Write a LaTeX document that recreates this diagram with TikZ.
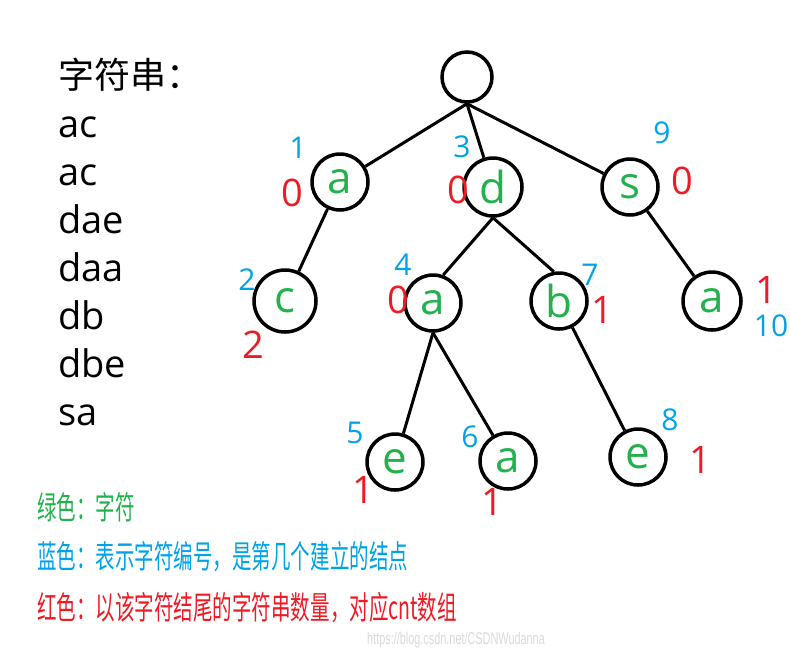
\documentclass[tikz,border=0pt]{standalone}
\usepackage{fontspec}
\setmainfont{Open Sans}
\newfontfamily\cjk{Noto Sans CJK SC}
\definecolor{chgreen}{HTML}{22B14C}
\definecolor{idblue}{HTML}{00A2E8}
\definecolor{cntred}{HTML}{ED1C24}
\tikzset{
  trie/.style={circle,draw,line width=3.5pt,minimum size=56pt,inner sep=0pt,
    text=chgreen,font=\fontsize{44}{44}\selectfont},
  edge/.style={line width=3pt},
  idnum/.style={text=idblue,inner sep=0pt,font=\fontsize{30}{30}\selectfont},
  cntnum/.style={text=cntred,inner sep=0pt,font=\fontsize{38}{38}\selectfont},
  word/.style={anchor=base west,inner sep=0pt,font=\fontsize{38}{38}\selectfont},
  legend/.style={anchor=west,inner sep=0pt,font=\fontsize{32}{32}\cjk}
}
\begin{document}
\begin{tikzpicture}[x=1pt,y=-1pt]
\useasboundingbox (0,0) rectangle (791,657);
% word list
\node[word,font=\fontsize{36}{36}\cjk] (title) at (58,88) {字符串：};
\node[word] (w1) at (58,137) {ac};
\node[word] (w2) at (58,185) {ac};
\node[word] (w3) at (58,233) {dae};
\node[word] (w4) at (58,281) {daa};
\node[word] (w5) at (58,329) {db};
\node[word] (w6) at (58,377) {dbe};
\node[word] (w7) at (58,425) {sa};
% trie
\node[trie,minimum size=50pt] (n0) at (467,77) {};
\node[trie] (n1) at (340,182) {a};
\node[trie,minimum size=62pt] (n2) at (285,301) {c};
\node[trie,minimum size=58pt] (n3) at (493,187) {d};
\node[trie] (n4) at (433,303) {a};
\node[trie] (n5) at (395,462) {e};
\node[trie] (n6) at (508,461) {a};
\node[trie] (n7) at (559,301) {b};
\node[trie] (n8) at (638,457) {e};
\node[trie] (n9) at (630,187) {s};
\node[trie,minimum size=58pt] (n10) at (712,301) {a};
\draw[edge] (n0.south) -- (n1);
\draw[edge] (n0.south) -- (n3);
\draw[edge] (n0.south) -- (n9);
\draw[edge] (n1) -- (n2);
\draw[edge] (n3.south) -- (n4.70);
\draw[edge] (n3.south) -- (n7.100);
\draw[edge] (n4.south) -- (n5);
\draw[edge] (n4.south) -- (n6);
\draw[edge] (n7) -- (n8);
\draw[edge] (n9) -- (n10);
% ids and counts
\node[idnum] (id1) at (298,148) {1};
\node[cntnum] (cnt1) at (292,193) {0};
\node[idnum] (id2) at (247,280) {2};
\node[cntnum] (cnt2) at (253,345) {2};
\node[idnum] (id3) at (462,147) {3};
\node[cntnum] (cnt3) at (458,190) {0};
\node[idnum] (id4) at (403,265) {4};
\node[cntnum] (cnt4) at (398,300) {0};
\node[idnum] (id5) at (355,433) {5};
\node[cntnum] (cnt5) at (363,490) {1};
\node[idnum] (id6) at (470,437) {6};
\node[cntnum] (cnt6) at (492,502) {1};
\node[idnum] (id7) at (590,275) {7};
\node[cntnum] (cnt7) at (602,310) {1};
\node[idnum] (id8) at (670,420) {8};
\node[cntnum] (cnt8) at (700,460) {1};
\node[idnum] (id9) at (662,133) {9};
\node[cntnum] (cnt9) at (682,181) {0};
\node[idnum] (id10) at (771,326) {10};
\node[cntnum] (cnt10) at (766,290) {1};
% legend
\node[legend,text=chgreen] (lg1) at (37,507) {\scalebox{0.61}[1]{绿色：字符}};
\node[legend,text=idblue] (lg2) at (37,557) {\scalebox{0.61}[1]{蓝色：表示字符编号，是第几个建立的结点}};
\node[legend,text=cntred] (lg3) at (37,608) {\scalebox{0.61}[1]{红色：以该字符结尾的字符串数量，对应cnt数组}};
\node[anchor=west,inner sep=0pt,text=black!15,font=\fontsize{17}{17}\fontspec{Liberation Sans}] (wm) at (367,640) {\scalebox{0.64}[1]{https://blog.csdn.net/CSDNWudanna}};
\end{tikzpicture}
\end{document}
